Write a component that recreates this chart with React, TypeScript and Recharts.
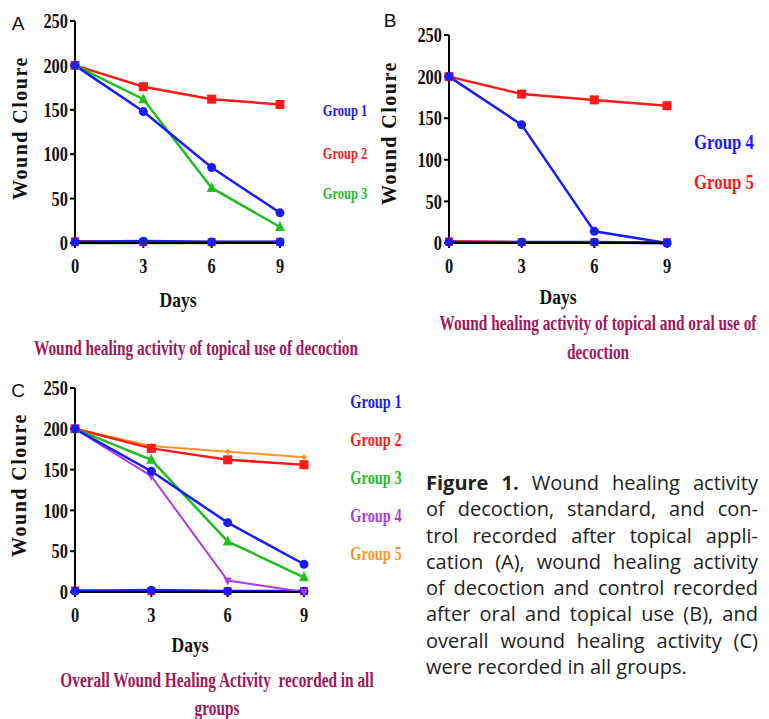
import React from 'react';
import { LineChart, Line, XAxis, YAxis } from 'recharts';

const days = [0, 3, 6, 9];
const dayTicks = [0, 3, 6, 9];
const woundTicks = [0, 50, 100, 150, 200, 250];
const group1 = [200, 148, 85, 34];
const group2 = [200, 176, 162, 156];
const group3 = [200, 162, 62, 18];
const group4 = [200, 142, 14, 0];
const group5 = [200, 179, 172, 165];
const control1 = [1, 2, 1, 1];
const control2 = [2, 1, 1, 1];
const control3 = [0, 0, 0, 1];
const control4 = [1, 1, 1, 0];
const control5 = [2, 1, 1, 1];

const legendA = ['Group 1', 'Group 2', 'Group 3'];
const legendB = ['Group 4', 'Group 5'];
const legendC = ['Group 1', 'Group 2', 'Group 3', 'Group 4', 'Group 5'];

const captionLines = [
  'of decoction, standard, and con-',
  'trol recorded after topical appli-',
  'cation (A), wound healing activity',
  'of decoction and control recorded',
  'after oral and topical use (B), and',
  'overall wound healing activity (C)',
];

const rows = days.map((d, i) => ({
  day: d,
  g1: group1[i],
  g2: group2[i],
  g3: group3[i],
  g4: group4[i],
  g5: group5[i],
  c1: control1[i],
  c2: control2[i],
  c3: control3[i],
  c4: control4[i],
  c5: control5[i],
}));

const BLUE = '#1a1aff';
const RED = '#ff1a1a';
const GREEN = '#1fbf1f';
const PURPLE = '#b03ae6';
const ORANGE = '#ff951f';
const MAROON = '#a0185a';
const SERIF = "'Liberation Serif', 'Times New Roman', serif";

const circleDot = (color: string, r: number) => (p: any) => (
  <circle key={`c-${p.index}`} cx={p.cx} cy={p.cy} r={r} fill={color} />
);
const squareDot = (color: string, s: number) => (p: any) => (
  <rect key={`s-${p.index}`} x={p.cx - s / 2} y={p.cy - s / 2} width={s} height={s} fill={color} />
);
const triDot = (color: string, s: number) => (p: any) => (
  <polygon
    key={`t-${p.index}`}
    points={`${p.cx},${p.cy - s * 0.6} ${p.cx - s / 2},${p.cy + s * 0.4} ${p.cx + s / 2},${p.cy + s * 0.4}`}
    fill={color}
  />
);
const invTriDot = (color: string, s: number) => (p: any) => (
  <polygon
    key={`v-${p.index}`}
    points={`${p.cx},${p.cy + s * 0.6} ${p.cx - s / 2},${p.cy - s * 0.4} ${p.cx + s / 2},${p.cy - s * 0.4}`}
    fill={color}
  />
);
const diamondDot = (color: string, s: number) => (p: any) => (
  <polygon
    key={`d-${p.index}`}
    points={`${p.cx},${p.cy - s / 2} ${p.cx + s / 2},${p.cy} ${p.cx},${p.cy + s / 2} ${p.cx - s / 2},${p.cy}`}
    fill={color}
  />
);

const YTick = (p: any) => (
  <g transform={`translate(${p.x},${p.y})`}>
    <text textAnchor="end" dy="0.36em" transform="scale(0.82,1)" fontFamily={SERIF} fontWeight="bold" fontSize={20} fill="#111">
      {p.payload.value}
    </text>
  </g>
);
const XTick = (p: any) => (
  <g transform={`translate(${p.x},${p.y})`}>
    <text textAnchor="middle" dy={23} transform="scale(0.82,1)" fontFamily={SERIF} fontWeight="bold" fontSize={20} fill="#111">
      {p.payload.value}
    </text>
  </g>
);

type Series = { key: string; color: string; dot: any; width?: number };

const Panel = ({ left, top, plotW, plotH, series }: { left: number; top: number; plotW: number; plotH: number; series: Series[] }) => (
  <div style={{ position: 'absolute', left: left - 60, top: top - 10 }}>
    <LineChart width={plotW + 70} height={plotH + 45} data={rows} margin={{ top: 10, right: 10, bottom: 0, left: 0 }}>
      <XAxis
        type="number"
        dataKey="day"
        domain={[0, 9]}
        ticks={dayTicks}
        height={35}
        axisLine={{ stroke: '#000', strokeWidth: 2 }}
        tickLine={{ stroke: '#000', strokeWidth: 2 }}
        tickSize={5}
        tick={<XTick />}
        interval={0}
      />
      <YAxis
        type="number"
        domain={[0, 250]}
        ticks={woundTicks}
        width={60}
        axisLine={{ stroke: '#000', strokeWidth: 2 }}
        tickLine={{ stroke: '#000', strokeWidth: 2 }}
        tickSize={5}
        tick={<YTick />}
        interval={0}
      />
      {series.map((s) => (
        <Line
          key={s.key}
          dataKey={s.key}
          stroke={s.color}
          strokeWidth={s.width ?? 2.5}
          dot={s.dot}
          activeDot={false}
          isAnimationActive={false}
          type="linear"
        />
      ))}
    </LineChart>
  </div>
);

const Txt = ({ x, y, size, color, children, scale = 0.8, bold = true, spacing = 0, rotate = false, family = SERIF }: any) => (
  <div
    style={{
      position: 'absolute',
      left: x,
      top: y,
      transform: `translate(-50%,-50%) ${rotate ? 'rotate(-90deg)' : ''} scaleX(${scale})`,
      fontFamily: family,
      fontWeight: bold ? 'bold' : 'normal',
      fontSize: size,
      color,
      whiteSpace: 'nowrap',
      lineHeight: 1,
      letterSpacing: spacing,
    }}
  >
    {children}
  </div>
);

const SANS = "'Liberation Sans', Arial, sans-serif";

export default function App() {
  return (
    <div style={{ position: 'absolute', left: 0, top: 0, width: 769, height: 719, background: '#fff', overflow: 'hidden' }}>
      {/* Panel A */}
      <Panel
        left={75}
        top={21}
        plotW={205}
        plotH={222}
        series={[
          { key: 'c3', color: GREEN, dot: triDot(GREEN, 8) },
          { key: 'c2', color: RED, dot: squareDot(RED, 8) },
          { key: 'c1', color: BLUE, dot: circleDot(BLUE, 4.5), width: 3 },
          { key: 'g2', color: RED, dot: squareDot(RED, 9) },
          { key: 'g3', color: GREEN, dot: triDot(GREEN, 10) },
          { key: 'g1', color: BLUE, dot: circleDot(BLUE, 4.5) },
        ]}
      />
      <Txt x={18} y={23} size={19} color="#111" bold={false} scale={1} family={SANS}>A</Txt>
      <Txt x={20} y={128} size={20} color="#111" rotate spacing={1.5} scale={1}>Wound Cloure</Txt>
      <Txt x={178} y={300} size={22} color="#111">Days</Txt>
      <Txt x={196} y={348} size={21} color={MAROON} scale={0.73}>Wound healing activity of topical use of decoction</Txt>
      {legendA.map((g, i) => (
        <Txt key={g} x={345} y={[111, 154, 194][i]} size={16} color={[BLUE, RED, GREEN][i]} scale={0.78}>{g}</Txt>
      ))}

      {/* Panel B */}
      <Panel
        left={449}
        top={35}
        plotW={218}
        plotH={208}
        series={[
          { key: 'c5', color: RED, dot: squareDot(RED, 8) },
          { key: 'c4', color: BLUE, dot: circleDot(BLUE, 4.5), width: 3 },
          { key: 'g5', color: RED, dot: squareDot(RED, 9) },
          { key: 'g4', color: BLUE, dot: circleDot(BLUE, 4.5) },
        ]}
      />
      <Txt x={390} y={20} size={19} color="#111" bold={false} scale={1} family={SANS}>B</Txt>
      <Txt x={389} y={133} size={20} color="#111" rotate spacing={1.5} scale={1}>Wound Cloure</Txt>
      <Txt x={558} y={297} size={22} color="#111">Days</Txt>
      <Txt x={598} y={323} size={21} color={MAROON} scale={0.73}>Wound healing activity of topical and oral use of</Txt>
      <Txt x={598} y={352} size={21} color={MAROON} scale={0.73}>decoction</Txt>
      {legendB.map((g, i) => (
        <Txt key={g} x={724} y={[142, 182][i]} size={21} color={[BLUE, RED][i]} scale={0.8}>{g}</Txt>
      ))}

      {/* Panel C */}
      <Panel
        left={75}
        top={388}
        plotW={229}
        plotH={204}
        series={[
          { key: 'c2', color: RED, dot: squareDot(RED, 8) },
          { key: 'c1', color: BLUE, dot: circleDot(BLUE, 4.5), width: 3 },
          { key: 'g5', color: ORANGE, dot: diamondDot(ORANGE, 6), width: 2 },
          { key: 'g2', color: RED, dot: squareDot(RED, 9) },
          { key: 'g4', color: PURPLE, dot: invTriDot(PURPLE, 8), width: 2 },
          { key: 'g3', color: GREEN, dot: triDot(GREEN, 10) },
          { key: 'g1', color: BLUE, dot: circleDot(BLUE, 4.5) },
        ]}
      />
      <Txt x={18} y={390} size={19} color="#111" bold={false} scale={1} family={SANS}>C</Txt>
      <Txt x={19} y={485} size={20} color="#111" rotate spacing={1.5} scale={1}>Wound Cloure</Txt>
      <Txt x={190} y={645} size={22} color="#111">Days</Txt>
      <Txt x={217} y={680} size={21} color={MAROON} scale={0.73}>Overall Wound Healing Activity&nbsp; recorded in all</Txt>
      <Txt x={217} y={708} size={21} color={MAROON} scale={0.73}>groups</Txt>
      {legendC.map((g, i) => (
        <Txt key={g} x={376} y={[402, 440, 478, 516, 554][i]} size={18} color={[BLUE, RED, GREEN, PURPLE, ORANGE][i]} scale={0.8}>{g}</Txt>
      ))}

      {/* Figure caption */}
      <div style={{ position: 'absolute', left: 426, top: 470, width: 332, fontFamily: "'Open Sans', 'Noto Sans', sans-serif", fontSize: 20, color: '#222', lineHeight: '26.3px' }}>
        <div style={{ textAlign: 'justify', textAlignLast: 'justify', whiteSpace: 'nowrap' }}>
          <b>Figure 1.</b> Wound healing activity
        </div>
        {captionLines.map((l) => (
          <div key={l} style={{ textAlign: 'justify', textAlignLast: 'justify', whiteSpace: 'nowrap' }}>{l}</div>
        ))}
        <div style={{ whiteSpace: 'nowrap' }}>were recorded in all groups.</div>
      </div>
    </div>
  );
}
